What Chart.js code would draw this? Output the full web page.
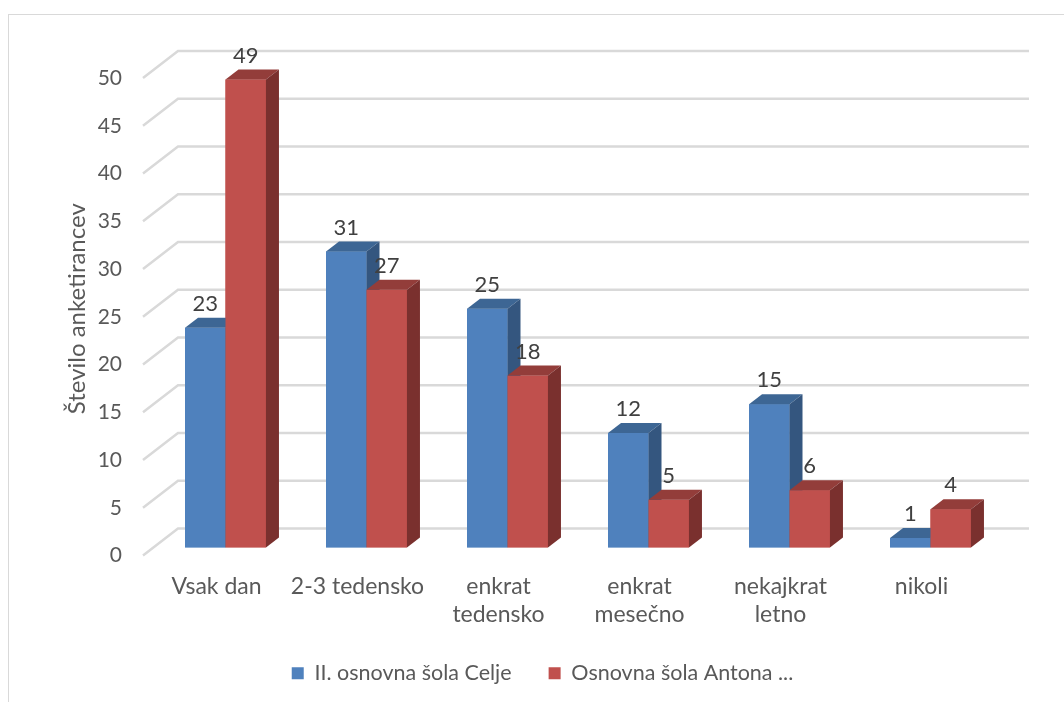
<!DOCTYPE html>
<html>
<head>
<meta charset="utf-8">
<script src="https://cdn.jsdelivr.net/npm/chart.js@4"></script>
<style>
  html, body { margin: 0; padding: 0; background: #ffffff; }
  #wrap { width: 1064px; height: 702px; position: relative; }
</style>
</head>
<body>
<div id="wrap"><canvas id="chart"></canvas></div>
<script>
'use strict';

// Podatki
var kategorije = ['Vsak dan', '2-3 tedensko', ['enkrat', 'tedensko'], ['enkrat', 'mesečno'], ['nekajkrat', 'letno'], 'nikoli'];
var serijaCelje = [23, 31, 25, 12, 15, 1];
var serijaAntona = [49, 27, 18, 5, 6, 4];
var imenaSerij = ['II. osnovna šola Celje', 'Osnovna šola Antona ...'];
var oznakeY = [0, 5, 10, 15, 20, 25, 30, 35, 40, 45, 50];

var FONT = 'Lato, "Open Sans", sans-serif';
var GLOBINA_X = 13, GLOBINA_Y = 10;

var barve = [
  { front: '#4f81bd', top: '#3d6694', side: '#34567f' },
  { front: '#c0504d', top: '#933d3a', side: '#7a302e' }
];

// Okvir + 3D mreza
var mrezaPlugin = {
  id: 'mreza3d',
  afterLayout: function (chart) {
    // legenda je v izvirniku malo bolj desno
    chart.legend.left += 18;
    chart.legend.right += 18;
  },
  beforeDraw: function (chart) {
    var ctx = chart.ctx;
    ctx.save();
    ctx.strokeStyle = '#d9d9d9';
    ctx.lineWidth = 1;
    ctx.strokeRect(8.5, 14.5, 1200, 800);
    ctx.restore();
  },
  beforeDatasetsDraw: function (chart) {
    var ctx = chart.ctx;
    var y = chart.scales.y;
    var area = chart.chartArea;
    ctx.save();
    ctx.strokeStyle = '#d9d9d9';
    ctx.lineWidth = 2.5;
    for (var i = 0; i < oznakeY.length; i++) {
      var fy = y.getPixelForValue(oznakeY[i]);
      ctx.beginPath();
      ctx.moveTo(area.left - 12, fy + 8);
      ctx.lineTo(area.left + 23, fy - 19);
      ctx.lineTo(area.right + 28, fy - 19);
      ctx.stroke();
    }
    ctx.restore();
  },
  afterDatasetsDraw: function (chart) {
    var ctx = chart.ctx;
    ctx.save();
    for (var d = 0; d < chart.data.datasets.length; d++) {
      var meta = chart.getDatasetMeta(d);
      var c = barve[d];
      for (var i = 0; i < meta.data.length; i++) {
        var el = meta.data[i];
        var p = el.getProps(['x', 'y', 'base', 'width'], true);
        var x0 = p.x - p.width / 2, x1 = p.x + p.width / 2;
        // sprednja ploskev
        ctx.fillStyle = c.front;
        ctx.fillRect(x0, p.y, x1 - x0, p.base - p.y);
        // zgornja ploskev
        ctx.fillStyle = c.top;
        ctx.beginPath();
        ctx.moveTo(x0, p.y);
        ctx.lineTo(x0 + GLOBINA_X, p.y - GLOBINA_Y);
        ctx.lineTo(x1 + GLOBINA_X, p.y - GLOBINA_Y);
        ctx.lineTo(x1, p.y);
        ctx.closePath();
        ctx.fill();
        // stranska ploskev
        ctx.fillStyle = c.side;
        ctx.beginPath();
        ctx.moveTo(x1, p.y);
        ctx.lineTo(x1 + GLOBINA_X, p.y - GLOBINA_Y);
        ctx.lineTo(x1 + GLOBINA_X, p.base - GLOBINA_Y);
        ctx.lineTo(x1, p.base);
        ctx.closePath();
        ctx.fill();
      }
    }
    // oznake vrednosti
    ctx.fillStyle = '#404040';
    ctx.font = '22px ' + FONT;
    ctx.textAlign = 'center';
    ctx.textBaseline = 'middle';
    for (var dd = 0; dd < chart.data.datasets.length; dd++) {
      var m = chart.getDatasetMeta(dd);
      var vals = chart.data.datasets[dd].data;
      for (var j = 0; j < m.data.length; j++) {
        var e = m.data[j];
        ctx.fillText(String(vals[j]), e.x, e.y - 24);
      }
    }
    ctx.restore();
  }
};

new Chart(document.getElementById('chart'), {
  type: 'bar',
  data: {
    labels: kategorije,
    datasets: [{
      label: imenaSerij[0],
      data: serijaCelje,
      backgroundColor: barve[0].front,
      categoryPercentage: 0.574,
      barPercentage: 1
    }, {
      label: imenaSerij[1],
      data: serijaAntona,
      backgroundColor: barve[1].front,
      categoryPercentage: 0.574,
      barPercentage: 1
    }]
  },
  options: {
    responsive: true,
    maintainAspectRatio: false,
    animation: false,
    layout: {
      padding: { top: 70, right: 63, bottom: 8, left: 48 }
    },
    plugins: {
      legend: {
        position: 'bottom',
        labels: {
          color: '#595959',
          font: { family: FONT, size: 21.5 },
          boxWidth: 12,
          boxHeight: 12,
          padding: 37
        }
      },
      tooltip: { enabled: false }
    },
    scales: {
      x: {
        grid: { display: false },
        border: { display: false },
        ticks: {
          color: '#595959',
          font: { family: FONT, size: 23, lineHeight: 1.22 },
          padding: 17,
          labelOffset: -9,
          maxRotation: 0,
          autoSkip: false
        },
        afterFit: function (scale) { scale.height = 78; }
      },
      y: {
        min: 0,
        max: 50,
        afterBuildTicks: function (scale) {
          scale.ticks = oznakeY.map(function (v) { return { value: v }; });
        },
        grid: { display: false, drawTicks: false },
        border: { display: false },
        ticks: {
          color: '#595959',
          font: { family: FONT, size: 21 },
          padding: 33,
          labelOffset: 8
        },
        title: {
          display: true,
          text: 'Število anketirancev',
          color: '#595959',
          font: { family: FONT, size: 24 },
          padding: { top: 15, bottom: 0 }
        },
        afterFit: function (scale) { scale.width = 107; }
      }
    }
  },
  plugins: [mrezaPlugin]
});
</script>
</body>
</html>
